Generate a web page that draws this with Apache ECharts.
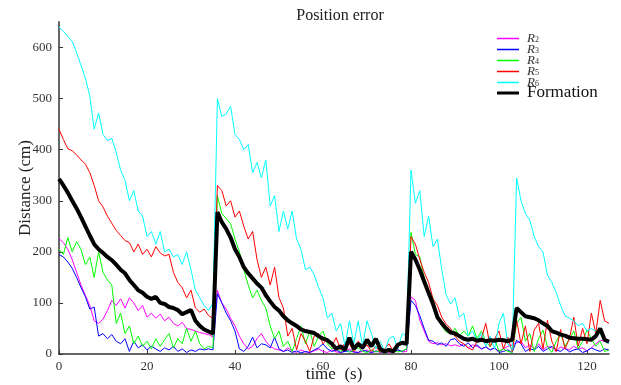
<!DOCTYPE html>
<html>
<head>
<meta charset="utf-8">
<title>Position error</title>
<script src="https://cdn.jsdelivr.net/npm/echarts@6/dist/echarts.min.js"></script>
<style>
  html, body { margin: 0; padding: 0; background: #fff; }
  #chart { width: 621px; height: 385px; }
</style>
</head>
<body>
<div id="chart"></div>
<script>
// sample times (s), one reading per second
const time = []
for (let s = 0; s <= 125; s++) time.push(s)

// position error of each robot (cm)
const r2 = [226, 218, 205, 185, 160, 135, 115, 95, 65, 60, 68, 85, 105, 95, 108, 90, 110, 100, 85, 95,
  72, 80, 70, 78, 65, 72, 60, 55, 62, 50, 48, 45, 42, 40, 38, 33,
  125, 100, 88, 70, 55, 35, 20, 10, 15, 30, 40, 25, 15, 10, 8, 5, 12, 6, 3, 8, 4, 3, 6, 10,
  5, 3, 8, 4, 3, 6, 10, 4, 3, 5, 8, 3, 5, 4, 6, 3, 5, 8, 4, 5,
  112, 105, 66, 45, 25, 20, 22, 18, 20, 16, 18, 15, 20, 12, 18, 15, 10, 14, 8, 12, 5, 10, 15, 18,
  22, 25, 12, 18, 10, 20, 8, 15, 12, 5, 14, 10, 8, 15, 10, 12, 6, 12, 20, 27, 25, 22]
const r3 = [195, 190, 180, 168, 150, 130, 112, 88, 92, 35, 40, 30, 38, 25, 20, 30, 5, 25, 12, 18,
  8, 15, 10, 5, 12, 8, 15, 5, 10, 3, 8, 5, 10, 8, 10, 8,
  118, 100, 80, 65, 45, 10, 5, 15, 33, 12, 20, 18, 12, 33, 10, 5, 8, 3, 6, 2, 5, 3, 8, 12,
  20, 10, 5, 8, 3, 5, 6, 4, 3, 8, 5, 3, 6, 4, 3, 5, 4, 8, 5, 10,
  105, 95, 75, 50, 27, 25, 18, 22, 15, 28, 30, 20, 15, 22, 12, 18, 10, 14, 8, 12, 3, 5, 8, 3,
  27, 20, 5, 10, 8, 15, 5, 10, 15, 8, 5, 12, 4, 8, 10, 3, 6, 12, 8, 5, 10, 8]
const r4 = [205, 195, 228, 200, 220, 205, 175, 190, 150, 200, 160, 145, 135, 60, 80, 40, 55, 20, 35, 15,
  25, 10, 30, 15, 28, 40, 12, 30, 20, 50, 25, 45, 20, 10, 15, 12,
  310, 275, 265, 255, 225, 200, 165, 135, 110, 125, 105, 90, 55, 30, 45, 15, 25, 5, 30, 55, 20, 45, 15, 35,
  45, 20, 10, 15, 5, 10, 3, 8, 12, 5, 3, 8, 4, 6, 3, 5, 8, 4, 6, 10,
  238, 195, 190, 150, 125, 110, 72, 55, 43, 40, 50, 35, 45, 35, 55, 30, 45, 25, 14, 30, 5, 10, 5, 3,
  60, 72, 25, 40, 5, 30, 47, 15, 3, 25, 40, 15, 30, 45, 10, 25, 47, 30, 15, 25, 5, 8]
const r5 = [440, 420, 402, 398, 390, 380, 372, 355, 330, 300, 288, 270, 256, 242, 232, 222, 218, 200, 215, 195,
  205, 190, 210, 198, 192, 195, 160, 140, 130, 110, 125, 90, 82, 88, 75, 70,
  330, 320, 290, 300, 268, 280, 250, 225, 240, 185, 150, 170, 135, 170, 110, 90, 35, 50, 8, 40, 25, 5, 35, 40,
  20, 30, 15, 32, 8, 22, 20, 5, 25, 10, 18, 5, 15, 3, 10, 20, 5, 15, 20, 22,
  230, 215, 185, 160, 140, 108, 95, 72, 58, 50, 35, 25, 20, 12, 8, 25, 30, 60, 15, 30, 45, 10, 33, 5,
  66, 20, 55, 5, 47, 60, 10, 66, 25, 5, 48, 10, 30, 72, 15, 50, 20, 80, 40, 105, 65, 60]
const r6 = [640, 632, 622, 612, 590, 565, 540, 505, 440, 472, 430, 418, 422, 395, 360, 340, 300, 320, 280, 270,
  230, 240, 215, 240, 200, 205, 190, 195, 175, 200, 165, 125, 110, 95, 85, 100,
  500, 465, 470, 485, 430, 420, 400, 410, 355, 375, 345, 380, 290, 310, 240, 280, 245, 280, 225, 205, 165, 170, 155, 130,
  110, 70, 80, 45, 60, 15, 65, 20, 65, 15, 65, 40, 10, 25, 5, 30, 35, 10, 40, 35,
  360, 295, 320, 230, 270, 210, 225, 165, 115, 98, 110, 72, 80, 35, 45, 25, 40, 15, 35, 10, 60, 80, 20, 8,
  345, 300, 275, 262, 230, 210, 200, 155, 140, 120, 95, 75, 70, 65, 55, 60, 45, 50, 45, 40, 25, 20]
const formation = [343, 330, 316, 300, 285, 268, 250, 232, 215, 205, 198, 190, 184, 175, 165, 158, 145, 135, 125, 120,
  112, 108, 112, 100, 98, 92, 90, 86, 78, 82, 86, 65, 55, 48, 44, 40,
  278, 258, 245, 228, 205, 190, 170, 158, 148, 138, 130, 115, 103, 92, 85, 74, 66, 60, 55, 48, 45, 43, 41, 35,
  30, 27, 20, 10, 15, 8, 32, 10, 20, 12, 28, 15, 30, 10, 5, 8, 5, 18, 22, 20,
  200, 185, 165, 142, 120, 98, 72, 60, 50, 42, 40, 35, 30, 28, 30, 26, 28, 25, 27, 26, 28, 27, 25, 28,
  90, 82, 74, 72, 70, 66, 60, 55, 45, 42, 38, 36, 32, 31, 30, 30, 29, 28, 35, 50, 28, 24]

const robotNames = ['R2', 'R3', 'R4', 'R5', 'R6']
const robotData = [r2, r3, r4, r5, r6]
const robotColors = ['#ff00ff', '#0000ff', '#00ff00', '#ff0000', '#00ffff']
const serif = '"Liberation Serif", "DejaVu Serif", serif'

const pairs = vals => vals.map((v, i) => [time[i], v])

const series = robotNames.map((name, i) => ({
  name: name,
  type: 'line',
  data: pairs(robotData[i]),
  showSymbol: false,
  lineStyle: { color: robotColors[i], width: 1 },
  itemStyle: { color: robotColors[i] }
}))
series.push({
  name: 'Formation',
  type: 'line',
  data: pairs(formation),
  showSymbol: false,
  lineStyle: { color: '#000', width: 4 },
  itemStyle: { color: '#000' }
})

const chart = echarts.init(document.getElementById('chart'))
chart.setOption({
  animation: false,
  title: {
    text: 'Position error',
    left: 335,
    textAlign: 'center',
    top: 3,
    textStyle: { fontFamily: serif, fontSize: 16, fontWeight: 'normal', color: '#222' }
  },
  legend: [
    {
      data: robotNames,
      orient: 'vertical',
      left: 497,
      top: 32,
      padding: 0,
      itemWidth: 22,
      itemHeight: 1.5,
      itemGap: -2,
      icon: 'rect',
      formatter: name => '{r|R}{s|' + name.slice(1) + '}',
      textStyle: {
        lineHeight: 11,
        padding: [0, 0, 0, 3],
        rich: {
          r: { fontFamily: serif, fontStyle: 'italic', fontSize: 13, lineHeight: 11, color: '#333' },
          s: { fontFamily: serif, fontSize: 8, lineHeight: 7, verticalAlign: 'bottom', color: '#333' }
        }
      }
    },
    {
      data: ['Formation'],
      orient: 'vertical',
      left: 497,
      top: 84,
      padding: 0,
      itemWidth: 22,
      itemHeight: 3,
      icon: 'rect',
      textStyle: { fontFamily: serif, fontSize: 17, lineHeight: 18, color: '#111', padding: [0, 0, 0, 3] }
    }
  ],
  grid: { left: 59, right: 12, top: 22, bottom: 31, outerBoundsMode: 'none' },
  xAxis: {
    type: 'value',
    min: 0,
    max: 125,
    interval: 20,
    name: 'time  (s)',
    nameLocation: 'middle',
    nameGap: 12,
    nameMoveOverlap: false,
    nameTextStyle: { fontFamily: serif, fontSize: 17, color: '#222' },
    axisLine: { lineStyle: { color: '#333', width: 1.5 } },
    axisTick: { inside: true, length: 4, lineStyle: { color: '#333' } },
    axisLabel: { fontFamily: serif, fontSize: 13, color: '#333', margin: 6, showMaxLabel: false },
    splitLine: { show: false }
  },
  yAxis: {
    type: 'value',
    min: 0,
    max: 650,
    interval: 100,
    name: 'Distance (cm)',
    nameLocation: 'middle',
    nameGap: 25,
    nameMoveOverlap: false,
    nameTextStyle: { fontFamily: serif, fontSize: 17, color: '#222' },
    axisLine: { show: true, lineStyle: { color: '#666', width: 2 } },
    axisTick: { show: true, inside: true, length: 4, lineStyle: { color: '#333' } },
    axisLabel: { fontFamily: serif, fontSize: 13, color: '#333', margin: 7, showMaxLabel: false },
    splitLine: { show: false }
  },
  series: series
})
</script>
</body>
</html>
